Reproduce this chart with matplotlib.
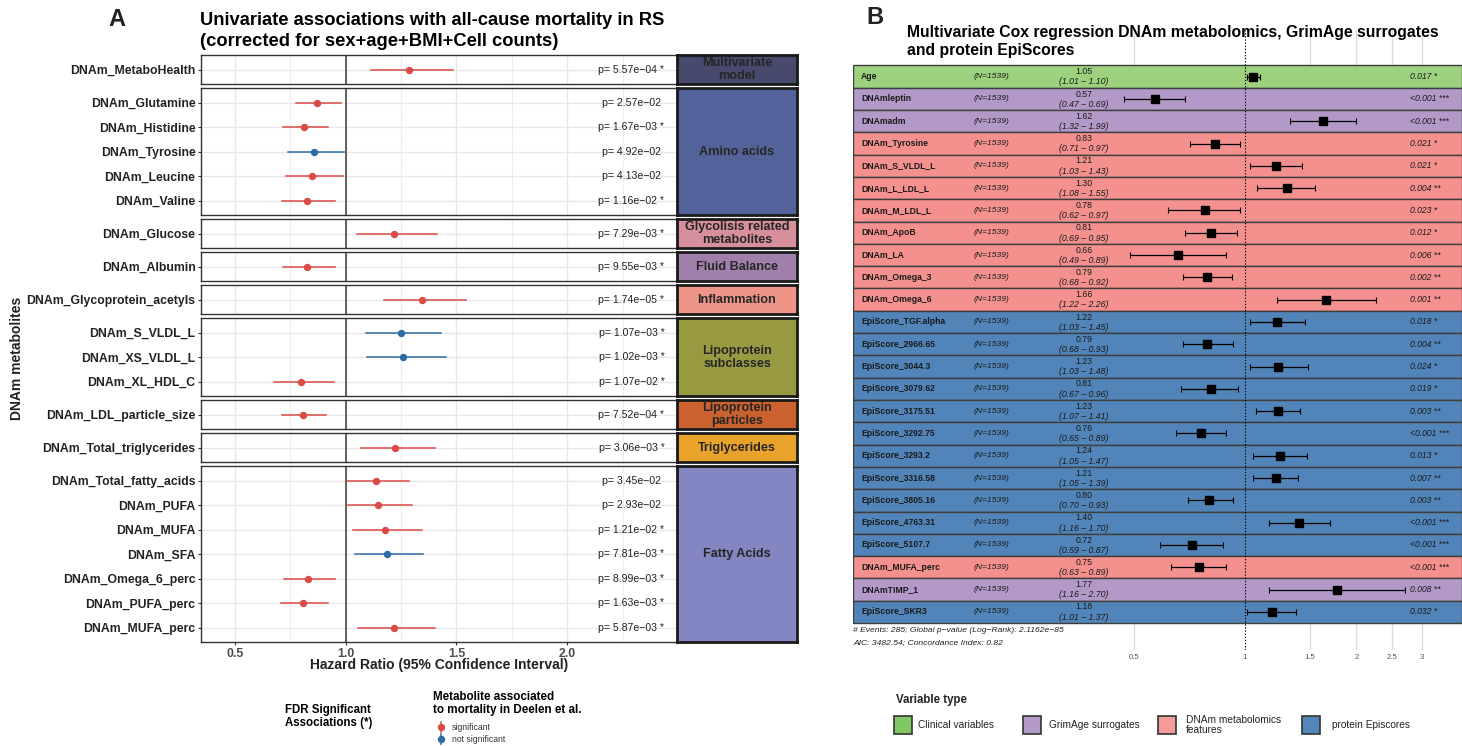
import numpy as np
import matplotlib.pyplot as plt
from matplotlib.lines import Line2D
from matplotlib.patches import Rectangle
from matplotlib.ticker import NullLocator

plt.rcParams['font.family'] = ['Liberation Sans', 'DejaVu Sans']

# ---------------- Panel A data: univariate associations ----------------
group_order = ["Multivariate\nmodel", "Amino acids", "Glycolisis related\nmetabolites",
               "Fluid Balance", "Inflammation", "Lipoprotein\nsubclasses",
               "Lipoprotein\nparticles", "Triglycerides", "Fatty Acids"]
group_colors = ['#474a6d', '#53639a', '#d68f9b', '#a080ab', '#ee9488',
                '#989a42', '#cc6130', '#e9a32b', '#8486c1']

metab_names = ["DNAm_MetaboHealth",
               "DNAm_Glutamine", "DNAm_Histidine", "DNAm_Tyrosine", "DNAm_Leucine", "DNAm_Valine",
               "DNAm_Glucose", "DNAm_Albumin", "DNAm_Glycoprotein_acetyls",
               "DNAm_S_VLDL_L", "DNAm_XS_VLDL_L", "DNAm_XL_HDL_C",
               "DNAm_LDL_particle_size", "DNAm_Total_triglycerides",
               "DNAm_Total_fatty_acids", "DNAm_PUFA", "DNAm_MUFA", "DNAm_SFA",
               "DNAm_Omega_6_perc", "DNAm_PUFA_perc", "DNAm_MUFA_perc"]
metab_group = [0, 1, 1, 1, 1, 1, 2, 3, 4, 5, 5, 5, 6, 7, 8, 8, 8, 8, 8, 8, 8]
hr_a = [1.286, 0.870, 0.811, 0.855, 0.849, 0.825, 1.218, 0.826, 1.346, 1.249, 1.260,
        0.799, 0.806, 1.224, 1.137, 1.144, 1.179, 1.186, 0.828, 0.806, 1.218]
lo_a = [1.114, 0.774, 0.717, 0.739, 0.729, 0.714, 1.052, 0.718, 1.174, 1.091, 1.096,
        0.676, 0.714, 1.069, 1.006, 1.010, 1.033, 1.043, 0.721, 0.708, 1.055]
hi_a = [1.482, 0.979, 0.921, 0.992, 0.988, 0.953, 1.410, 0.950, 1.544, 1.430, 1.451,
        0.946, 0.911, 1.401, 1.286, 1.298, 1.346, 1.349, 0.950, 0.920, 1.403]
pval_a = ["5.57e−04", "2.57e−02", "1.67e−03", "4.92e−02", "4.13e−02", "1.16e−02",
          "7.29e−03", "9.55e−03", "1.74e−05", "1.07e−03", "1.02e−03", "1.07e−02",
          "7.52e−04", "3.06e−03", "3.45e−02", "2.93e−02", "1.21e−02", "7.81e−03",
          "8.99e−03", "1.63e−03", "5.87e−03"]
fdr_sig = [1, 0, 1, 0, 0, 1, 1, 1, 1, 1, 1, 1, 1, 1, 0, 0, 1, 1, 1, 1, 1]
deelen_sig = [1, 1, 1, 0, 1, 1, 1, 1, 1, 0, 0, 1, 1, 1, 1, 1, 1, 0, 1, 1, 1]

# ---------------- Panel B data: multivariate Cox model ----------------
names_b = ["Age", "DNAmleptin", "DNAmadm", "DNAm_Tyrosine", "DNAm_S_VLDL_L", "DNAm_L_LDL_L",
           "DNAm_M_LDL_L", "DNAm_ApoB", "DNAm_LA", "DNAm_Omega_3", "DNAm_Omega_6",
           "EpiScore_TGF.alpha", "EpiScore_2966.65", "EpiScore_3044.3", "EpiScore_3079.62",
           "EpiScore_3175.51", "EpiScore_3292.75", "EpiScore_3293.2", "EpiScore_3316.58",
           "EpiScore_3805.16", "EpiScore_4763.31", "EpiScore_5107.7", "DNAm_MUFA_perc",
           "DNAmTIMP_1", "EpiScore_SKR3"]
type_b = [0, 1, 1, 2, 2, 2, 2, 2, 2, 2, 2, 3, 3, 3, 3, 3, 3, 3, 3, 3, 3, 3, 2, 1, 3]
hr_b = [1.05, 0.57, 1.62, 0.83, 1.21, 1.30, 0.78, 0.81, 0.66, 0.79, 1.66, 1.22, 0.79,
        1.23, 0.81, 1.23, 0.76, 1.24, 1.21, 0.80, 1.40, 0.72, 0.75, 1.77, 1.18]
lo_b = [1.01, 0.47, 1.32, 0.71, 1.03, 1.08, 0.62, 0.69, 0.49, 0.68, 1.22, 1.03, 0.68,
        1.03, 0.67, 1.07, 0.65, 1.05, 1.05, 0.70, 1.16, 0.59, 0.63, 1.16, 1.01]
hi_b = [1.10, 0.69, 1.99, 0.97, 1.43, 1.55, 0.97, 0.95, 0.89, 0.92, 2.26, 1.45, 0.93,
        1.48, 0.96, 1.41, 0.89, 1.47, 1.39, 0.93, 1.70, 0.87, 0.89, 2.70, 1.37]
p_b = ["0.017 *", "<0.001 ***", "<0.001 ***", "0.021 *", "0.021 *", "0.004 **",
       "0.023 *", "0.012 *", "0.006 **", "0.002 **", "0.001 **", "0.018 *", "0.004 **",
       "0.024 *", "0.019 *", "0.003 **", "<0.001 ***", "0.013 *", "0.007 **",
       "0.003 **", "<0.001 ***", "<0.001 ***", "<0.001 ***", "0.008 **", "0.032 *"]
n_obs = 1539
type_labels = ["Clinical variables", "GrimAge surrogates", "DNAm metabolomics\nfeatures",
               "protein Episcores"]
row_colors = ['#9dd17d', '#b399c8', '#f4918f', '#5185b9']
key_colors = ['#80c863', '#b39acb', '#f49a99', '#5387bc']

RED = '#db4b47'
BLUE = '#2e6aa3'

W, H = 1462, 746


def fx(x):
    return x / W


def fy(y):
    return 1 - y / H


fig = plt.figure(figsize=(W / 100, H / 100), dpi=100)

# ---------------- Panel A ----------------
fig.text(fx(117), fy(19), "A", fontsize=17, fontweight='bold', ha='center', va='center',
         color='#222222')
fig.text(fx(200), fy(31), "Univariate associations with all-cause mortality in RS\n"
         "(corrected for sex+age+BMI+Cell counts)", fontsize=13.2, fontweight='bold',
         ha='left', va='center', linespacing=1.3)

unit = 24.5
gap = 3.6
y_cur = 55
xl_a, xr_a = 0.3465, 2.4955
for gi, gname in enumerate(group_order):
    idx = [i for i, g in enumerate(metab_group) if g == gi]
    n = len(idx)
    h = (n + 0.2) * unit
    ax = fig.add_axes([fx(201), fy(y_cur + h), fx(677) - fx(201), h / H])
    ax.set_xlim(xl_a, xr_a)
    ax.set_ylim(n + 0.6, 0.4)
    ax.set_xticks([0.5, 1.0, 1.5, 2.0])
    ax.set_xticks([0.75, 1.25, 1.75, 2.25], minor=True)
    ax.set_yticks(np.arange(1, n + 1))
    ax.set_yticklabels([metab_names[i] for i in idx], fontsize=8.8, fontweight='bold',
                       color='#222222')
    ax.grid(which='major', axis='both', color='#e8e8e8', lw=1.0)
    ax.grid(which='minor', axis='x', color='#eeeeee', lw=0.8)
    ax.set_axisbelow(True)
    ax.tick_params(axis='y', length=2.5, width=0.8, color='#333333', pad=1.5)
    ax.tick_params(axis='x', which='both', length=0)
    for s in ax.spines.values():
        s.set_color('#333333')
        s.set_linewidth(1.0)
    ax.axvline(1.0, color='#555555', lw=1.3, zorder=1)
    for k, i in enumerate(idx):
        col = RED if deelen_sig[i] else BLUE
        ax.plot([lo_a[i], hi_a[i]], [k + 1, k + 1], color=col, lw=1.1, zorder=3)
        ax.plot(hr_a[i], k + 1, 'o', color=col, ms=4.3, zorder=4)
        lab = "p= " + pval_a[i] + (" *" if fdr_sig[i] else "")
        ax.text(2.29, k + 1, lab, ha='center', va='center', fontsize=7.6, color='#222222')
    if gi == len(group_order) - 1:
        ax.set_xticklabels(["0.5", "1.0", "1.5", "2.0"], fontsize=8.8, fontweight='bold',
                           color='#4d4d4d')
        ax.tick_params(axis='x', which='major', length=2.5, color='#333333', pad=1.5)
    else:
        ax.tick_params(axis='x', labelbottom=False)

    # facet strip on the right
    sax = fig.add_axes([fx(677), fy(y_cur + h), fx(797) - fx(677), h / H])
    sax.set_facecolor(group_colors[gi])
    sax.set_xticks([])
    sax.set_yticks([])
    for s in sax.spines.values():
        s.set_color('#1a1a1a')
        s.set_linewidth(2.0)
    sax.text(0.5, 0.5, gname, transform=sax.transAxes, ha='center', va='center',
             fontsize=9.1, fontweight='bold', color='#262626', linespacing=1.1)
    y_cur += h + gap

fig.text(fx(17.5), fy(358), "DNAm metabolites", rotation=90, fontsize=10,
         fontweight='bold', ha='center', va='center', color='#222222')
fig.text(fx(439), fy(665), "Hazard Ratio (95% Confidence Interval)", fontsize=10,
         fontweight='bold', ha='center', va='center', color='#222222')

# legend of panel A
fig.text(fx(285), fy(716.5), "FDR Significant\nAssociations (*)", fontsize=8.3,
         fontweight='bold', ha='left', va='center', linespacing=1.1)
fig.text(fx(433), fy(703.5), "Metabolite associated\nto mortality in Deelen et al.",
         fontsize=8.4, fontweight='bold', ha='left', va='center', linespacing=1.15)
for yk, col, lab in [(727, RED, "significant"), (739, BLUE, "not significant")]:
    fig.add_artist(Line2D([fx(440.6), fx(440.6)], [fy(yk - 5), fy(yk + 5)], color=col, lw=1.1))
    fig.add_artist(Line2D([fx(440.6)], [fy(yk)], marker='o', color=col, ms=4.3))
    fig.text(fx(452), fy(yk), lab, fontsize=6.2, ha='left', va='center', color='#333333')

# ---------------- Panel B ----------------
fig.text(fx(875), fy(18), "B", fontsize=17, fontweight='bold', ha='center', va='center',
         color='#222222')
fig.text(fx(907), fy(41.5), "Multivariate Cox regression DNAm metabolomics, GrimAge surrogates\n"
         "and protein EpiScores", fontsize=11.3, fontweight='bold', ha='left', va='center',
         linespacing=1.25)

bx = fig.add_axes([fx(853), fy(650), fx(1462) - fx(853), (650 - 30) / H])
bx.set_xscale('log')
xl_b, xr_b = 0.0872, 3.859
bx.set_xlim(xl_b, xr_b)
rows = np.arange(len(names_b))
bx.set_ylim(25.71, -2.09)
for s in bx.spines.values():
    s.set_visible(False)
bx.set_yticks([])

for gx in [0.5, 1.5, 2, 2.5, 3]:
    bx.axvline(gx, color='#dcdcdc', lw=1.0, zorder=0)
bx.barh(rows, width=xr_b - xl_b, left=xl_b, height=1.0,
        color=[row_colors[t] for t in type_b], edgecolor='#3d3d3d', lw=1.0, zorder=1)
bx.axvline(1, color='black', lw=0.8, ls=(0, (1.2, 1.6)), zorder=3)

hr_arr = np.array(hr_b)
bx.errorbar(hr_arr, rows, xerr=[hr_arr - np.array(lo_b), np.array(hi_b) - hr_arr],
            fmt='s', color='black', ms=5.8, elinewidth=0.9, capsize=2.0, capthick=0.8,
            zorder=4)

tr = bx.get_yaxis_transform()
for r in rows:
    bx.text(0.013, r, names_b[r], transform=tr, fontsize=6.2, fontweight='bold',
            ha='left', va='center', color='#1a1a1a')
    bx.text(0.228, r, "(N=%d)" % n_obs, transform=tr, fontsize=6.1, fontstyle='italic',
            ha='center', va='center', color='#1a1a1a')
    bx.text(0.379, r - 0.22, "%.2f" % hr_b[r], transform=tr, fontsize=6.3,
            ha='center', va='center', color='#1a1a1a')
    bx.text(0.379, r + 0.24, "(%.2f – %.2f)" % (lo_b[r], hi_b[r]), transform=tr,
            fontsize=6.3, fontstyle='italic', ha='center', va='center', color='#1a1a1a')
    bx.text(0.915, r, p_b[r], transform=tr, fontsize=6.2, fontstyle='italic',
            ha='left', va='center', color='#1a1a1a')

bx.set_xticks([0.5, 1, 1.5, 2, 2.5, 3])
bx.set_xticklabels(["0.5", "1", "1.5", "2", "2.5", "3"])
bx.xaxis.set_minor_locator(NullLocator())
bx.tick_params(axis='x', length=0, labelsize=5.6, labelcolor='#555555', pad=3)

fig.text(fx(853), fy(630), "# Events: 285; Global p−value (Log−Rank): 2.1162e−85",
         fontsize=6.1, fontstyle='italic', ha='left', va='center', color='#222222')
fig.text(fx(853), fy(643), "AIC: 3482.54; Concordance Index: 0.82",
         fontsize=6.1, fontstyle='italic', ha='left', va='center', color='#222222')

# legend of panel B
fig.text(fx(896), fy(700), "Variable type", fontsize=8.3, fontweight='bold',
         ha='left', va='center', color='#222222')
key_x = [894, 1023, 1158, 1302]
txt_x = [918, 1049, 1186, 1332]
for k in range(4):
    fig.add_artist(Rectangle((fx(key_x[k]), fy(734)), 18 / W, 18 / H,
                             facecolor=key_colors[k], edgecolor='#333333', lw=1.2))
    fig.text(fx(txt_x[k]), fy(725), type_labels[k], fontsize=7.3, ha='left',
             va='center', color='#222222', linespacing=1.1)

fig.savefig("out.png", dpi=100)
